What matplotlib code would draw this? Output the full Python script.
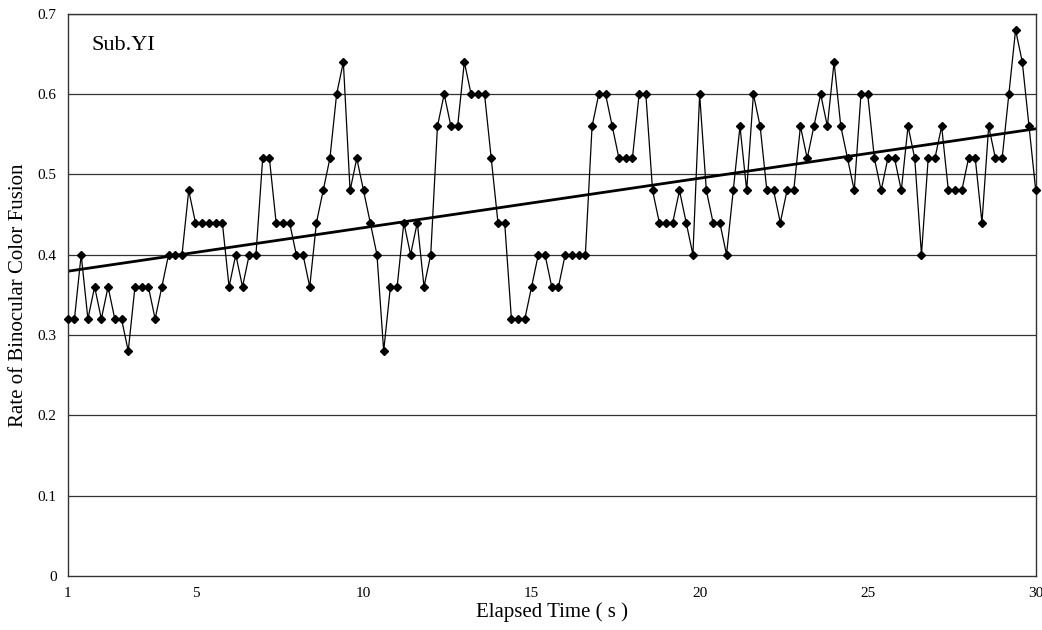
import numpy as np
import matplotlib
matplotlib.use('Agg')
import matplotlib.pyplot as plt

# Valores (taxa de fusão a cada 0.2 s)
taxa_fusao = [
    0.32, 0.32, 0.40, 0.32, 0.36, 0.32, 0.36, 0.32, 0.32, 0.28,
    0.36, 0.36, 0.36, 0.32, 0.36, 0.40, 0.40, 0.40, 0.48,
    0.44, 0.44, 0.44, 0.44, 0.44,
    0.36, 0.40, 0.36, 0.40, 0.40,
    0.52, 0.52,
    0.44, 0.44, 0.44,
    0.40, 0.40, 0.36,
    0.44, 0.48, 0.52, 0.60, 0.64, 0.48, 0.52, 0.48, 0.44, 0.40,
    0.28, 0.36, 0.36, 0.44, 0.40, 0.44, 0.36,
    0.40, 0.56, 0.60, 0.56, 0.56, 0.64, 0.60, 0.60, 0.60, 0.52,
    0.44, 0.44, 0.32, 0.32, 0.32, 0.36, 0.40, 0.40,
    0.36, 0.36, 0.40, 0.40, 0.40, 0.40, 0.56, 0.60, 0.60, 0.56,
    0.52, 0.52, 0.52, 0.60, 0.60, 0.48, 0.44, 0.44,
    0.44, 0.48, 0.44, 0.40, 0.60, 0.48, 0.44, 0.44, 0.40, 0.48,
    0.56, 0.48, 0.60, 0.56, 0.48, 0.48, 0.44, 0.48, 0.48, 0.56,
    0.52, 0.56, 0.60,
    0.56, 0.64, 0.56, 0.52, 0.48, 0.60, 0.60, 0.52, 0.48, 0.52,
    0.52, 0.48, 0.56, 0.52, 0.40, 0.52, 0.52, 0.56, 0.48, 0.48,
    0.48, 0.52, 0.52, 0.44, 0.56, 0.52, 0.52, 0.60, 0.68, 0.64,
    0.56, 0.48,
]
inicio = 1.2
passo = 0.2
ticks_x = [1.2, 5, 10, 15, 20, 25, 30]
rotulos_x = ['1', '5', '10', '15', '20', '25', '30']
ticks_y = [0, 0.1, 0.2, 0.3, 0.4, 0.5, 0.6, 0.7]
rotulos_y = ['0', '0.1', '0.2', '0.3', '0.4', '0.5', '0.6', '0.7']

tempo = inicio + passo * np.arange(len(taxa_fusao))

# Reta de tendência (mínimos quadrados)
coef = np.polyfit(tempo, taxa_fusao, 1)
tendencia = np.polyval(coef, tempo)

plt.rcParams['font.family'] = ['Liberation Serif', 'DejaVu Serif']

fig = plt.figure(figsize=(10.42, 6.3), dpi=100)
ax = fig.add_axes([0.065, 0.086, 0.929, 0.892])

for v in ticks_y[1:]:
    ax.axhline(v, color='#333333', linewidth=0.9, zorder=1)

ax.plot(tempo, taxa_fusao, color='black', linewidth=0.9, marker='D',
        markersize=4.5, zorder=3, clip_on=False)
ax.plot(tempo, tendencia, color='black', linewidth=2.0, zorder=2)

ax.set_xlim(tempo[0], tempo[-1])
ax.set_ylim(0, 0.7)
ax.set_xticks(ticks_x)
ax.set_xticklabels(rotulos_x, fontsize=11)
ax.set_yticks(ticks_y)
ax.set_yticklabels(rotulos_y, fontsize=11)
ax.tick_params(length=0, pad=8)

for lado in ['left', 'bottom', 'right', 'top']:
    ax.spines[lado].set_color('#333333')
    ax.spines[lado].set_linewidth(1.0)

ax.set_xlabel('Elapsed Time ( s )', fontsize=15, labelpad=2)
ax.set_ylabel('Rate of Binocular Color Fusion', fontsize=15, labelpad=7)
ax.text(0.025, 0.935, 'Sub.YI', transform=ax.transAxes, fontsize=16)

plt.savefig('out.png', dpi=100)
plt.close()
